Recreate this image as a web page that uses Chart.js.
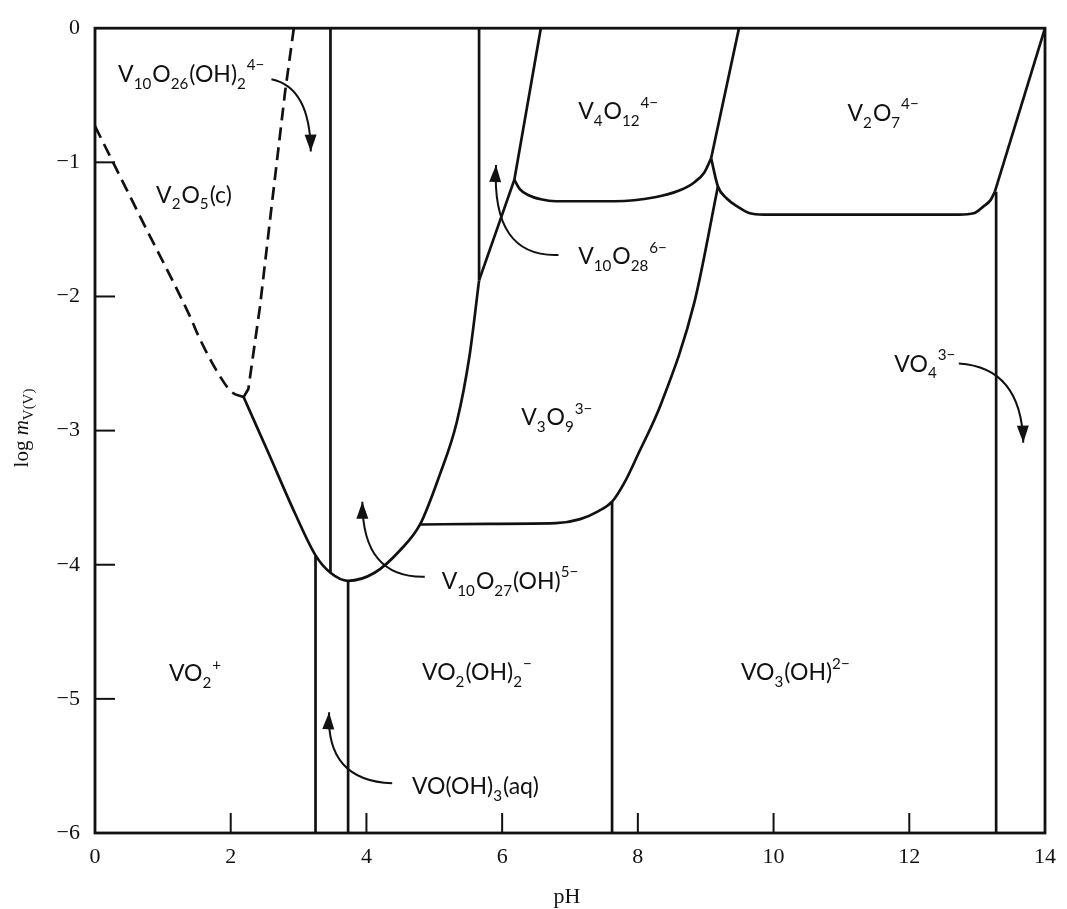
<!DOCTYPE html>
<html>
<head>
<meta charset="utf-8">
<script src="https://cdn.jsdelivr.net/npm/chart.js@4.4.1/dist/chart.umd.min.js"></script>
<style>
  body { margin: 0; background: #fff; }
  #wrap { width: 1067px; height: 909px; }
</style>
</head>
<body>
<div id="wrap"><canvas id="chart"></canvas></div>
<script>
// axis ticks
const xTicks = [0, 2, 4, 6, 8, 10, 12, 14];
const yTicks = [0, -1, -2, -3, -4, -5, -6];

// boundaries [pH, log m]
const dashedLeft = [[0, -0.73], [0.7, -1.44], [1.41, -2.16], [1.53, -2.3], [1.8, -2.56], [2.01, -2.71], [2.19, -2.75]];
const dashedRight = [[2.19, -2.75], [2.26, -2.69], [2.43, -2.08], [2.6, -1.34], [2.8, -0.48], [2.93, 0]];
const minCurve = [[2.19, -2.75], [2.55, -3.16], [2.95, -3.62], [3.25, -3.93], [3.47, -4.06], [3.73, -4.12],
  [4.12, -4.06], [4.5, -3.89], [4.79, -3.70], [5.08, -3.33], [5.33, -2.94], [5.52, -2.44], [5.66, -1.88]];
const decaLine = [[5.66, -1.88], [6.18, -1.13], [6.57, 0]];
const tetraBottom = [[6.18, -1.13], [6.26, -1.2], [6.39, -1.245], [6.57, -1.275], [6.79, -1.29], [7.66, -1.29],
  [8.25, -1.26], [8.61, -1.21], [8.83, -1.15], [8.98, -1.075], [9.08, -0.97]];
const tetraRight = [[9.08, -0.97], [9.49, 0]];
const pyroBottom = [[9.08, -0.97], [9.18, -1.18], [9.31, -1.27], [9.47, -1.33], [9.65, -1.38], [9.85, -1.39],
  [11.0, -1.39], [12.73, -1.39], [12.95, -1.38], [13.09, -1.33], [13.2, -1.28], [13.26, -1.22]];
const pyroRight = [[13.26, -1.22], [14, 0]];
const trimerEdge = [[4.79, -3.70], [5.8, -3.695], [6.79, -3.69], [7.15, -3.66], [7.42, -3.60], [7.62, -3.53],
  [7.81, -3.38], [8.0, -3.18], [8.35, -2.79], [8.83, -2.05], [9.18, -1.18]];
const vert1 = [[3.47, 0], [3.47, -4.06]];
const vert2 = [[5.66, 0], [5.66, -1.88]];
const vert3 = [[3.25, -3.93], [3.25, -6]];
const vert4 = [[3.73, -4.12], [3.73, -6]];
const vert5 = [[7.62, -3.53], [7.62, -6]];
const vert6 = [[13.28, -1.22], [13.28, -6]];

// species names: [text, kind]
const speciesNames = [
  [['V'], ['10', 'sub'], ['O'], ['26', 'sub'], ['(OH)'], ['2', 'sub'], ['4−', 'sup']],
  [['V'], ['2', 'sub'], ['O'], ['5', 'sub'], ['(c)']],
  [['V'], ['4', 'sub'], ['O'], ['12', 'sub'], ['4−', 'sup']],
  [['V'], ['2', 'sub'], ['O'], ['7', 'sub'], ['4−', 'sup']],
  [['V'], ['10', 'sub'], ['O'], ['28', 'sub'], ['6−', 'sup']],
  [['VO'], ['4', 'sub'], ['3−', 'sup']],
  [['V'], ['3', 'sub'], ['O'], ['9', 'sub'], ['3−', 'sup']],
  [['V'], ['10', 'sub'], ['O'], ['27', 'sub'], ['(OH)'], ['5−', 'sup']],
  [['VO'], ['2', 'sub'], ['+', 'sup']],
  [['VO'], ['2', 'sub'], ['(OH)'], ['2', 'sub'], ['−', 'sup']],
  [['VO'], ['3', 'sub'], ['(OH)'], ['2−', 'sup']],
  [['VO(OH)'], ['3', 'sub'], ['(aq)']]
];
// where each name starts (left, baseline) in pH / log m
const nameSpots = [[0.34, -0.40], [0.9, -1.30], [7.12, -0.68], [11.09, -0.69], [7.12, -1.76], [11.78, -2.56],
  [6.28, -2.96], [5.11, -4.18], [1.09, -4.87], [4.82, -4.86], [9.52, -4.86], [4.67, -5.71]];

// pointer arrows: start, bend, tip
const arrowStarts = [[2.6, -0.38], [6.83, -1.69], [4.86, -4.09], [4.38, -5.63], [12.73, -2.50]];
const arrowBends = [[3.17, -0.44], [5.84, -1.71], [3.94, -4.10], [3.40, -5.61], [13.65, -2.53]];
const arrowTips = [[3.18, -0.92], [5.91, -1.02], [3.94, -3.53], [3.45, -5.10], [13.68, -3.09]];

function toXY(arr) {
  return arr.map(p => ({ x: p[0], y: p[1] }));
}

function boundary(arr, dashed, smooth) {
  return {
    data: toXY(arr),
    showLine: true,
    borderColor: "#111",
    borderWidth: 2.7,
    borderDash: dashed ? [13, 7] : [],
    pointRadius: 0,
    cubicInterpolationMode: smooth ? "monotone" : "default",
    tension: 0
  };
}

// write a formula with sub/superscripts
function drawFormula(ctx, x, y, segs, size, family) {
  let cx = x;
  segs.forEach(seg => {
    const kind = seg[1] || "";
    let fs = size, dy = 0;
    if (kind === "sub") { fs = size * 0.66; dy = size * 0.3; }
    if (kind === "sup") { fs = size * 0.66; dy = -size * 0.5; }
    ctx.font = fs + "px " + family;
    ctx.fillText(seg[0], cx, y + dy);
    cx += ctx.measureText(seg[0]).width + (kind ? 1 : 0);
  });
}

const decorPlugin = {
  id: "decor",
  afterDraw(chart) {
    const ctx = chart.ctx;
    const xs = chart.scales.x, ys = chart.scales.y;
    const a = chart.chartArea;
    ctx.save();
    ctx.strokeStyle = "#111";
    ctx.fillStyle = "#111";

    // frame
    ctx.lineWidth = 2.8;
    ctx.setLineDash([]);
    ctx.strokeRect(a.left, a.top, a.right - a.left, a.bottom - a.top);

    // inward tick marks
    ctx.lineWidth = 2;
    xTicks.slice(1, -1).forEach(v => {
      const px = xs.getPixelForValue(v);
      ctx.beginPath(); ctx.moveTo(px, a.bottom); ctx.lineTo(px, a.bottom - 20); ctx.stroke();
    });
    yTicks.slice(1, -1).forEach(v => {
      const py = ys.getPixelForValue(v);
      ctx.beginPath(); ctx.moveTo(a.left, py); ctx.lineTo(a.left + 20, py); ctx.stroke();
    });

    // arrows
    ctx.lineWidth = 2;
    arrowStarts.forEach((s, i) => {
      const p0 = [xs.getPixelForValue(s[0]), ys.getPixelForValue(s[1])];
      const c = [xs.getPixelForValue(arrowBends[i][0]), ys.getPixelForValue(arrowBends[i][1])];
      const p2 = [xs.getPixelForValue(arrowTips[i][0]), ys.getPixelForValue(arrowTips[i][1])];
      ctx.beginPath();
      ctx.moveTo(p0[0], p0[1]);
      ctx.quadraticCurveTo(c[0], c[1], p2[0], p2[1]);
      ctx.stroke();
      const ang = Math.atan2(p2[1] - c[1], p2[0] - c[0]);
      const len = 17, half = 6;
      ctx.beginPath();
      ctx.moveTo(p2[0], p2[1]);
      ctx.lineTo(p2[0] - len * Math.cos(ang) + half * Math.sin(ang), p2[1] - len * Math.sin(ang) - half * Math.cos(ang));
      ctx.lineTo(p2[0] - len * Math.cos(ang) - half * Math.sin(ang), p2[1] - len * Math.sin(ang) + half * Math.cos(ang));
      ctx.closePath();
      ctx.fill();
    });

    // species names
    ctx.textBaseline = "alphabetic";
    ctx.textAlign = "left";
    speciesNames.forEach((segs, i) => {
      const px = xs.getPixelForValue(nameSpots[i][0]);
      const py = ys.getPixelForValue(nameSpots[i][1]);
      drawFormula(ctx, px, py, segs, 23, "Lato, 'Open Sans', sans-serif");
    });

    // axis titles
    ctx.textAlign = "left";
    ctx.font = "22px 'Liberation Serif', serif";
    const ph = "pH";
    ctx.fillText(ph, 567 - ctx.measureText(ph).width / 2, 903);

    ctx.translate(28, 428);
    ctx.rotate(-Math.PI / 2);
    const parts = [["log ", ""], ["m", "it"], ["V(V)", "sub"]];
    const fontOf = k => k === "sub" ? "15px 'Liberation Serif', serif"
      : (k === "it" ? "italic 21px 'Liberation Serif', serif" : "21px 'Liberation Serif', serif");
    let w = 0;
    parts.forEach(p => { ctx.font = fontOf(p[1]); w += ctx.measureText(p[0]).width; });
    let cx = -w / 2;
    parts.forEach(p => {
      ctx.font = fontOf(p[1]);
      ctx.fillText(p[0], cx, p[1] === "sub" ? 5 : 0);
      cx += ctx.measureText(p[0]).width;
    });
    ctx.restore();
  }
};

const ctx = document.getElementById("chart").getContext("2d");
new Chart(ctx, {
  type: "scatter",
  data: {
    datasets: [
      boundary(dashedLeft, true, true),
      boundary(dashedRight, true, false),
      boundary(minCurve, false, true),
      boundary(decaLine, false, false),
      boundary(tetraBottom, false, true),
      boundary(tetraRight, false, false),
      boundary(pyroBottom, false, true),
      boundary(pyroRight, false, false),
      boundary(trimerEdge, false, true),
      boundary(vert1), boundary(vert2), boundary(vert3),
      boundary(vert4), boundary(vert5), boundary(vert6)
    ]
  },
  options: {
    responsive: true,
    maintainAspectRatio: false,
    animation: false,
    layout: { padding: { top: 18, right: 14, left: 0, bottom: 0 } },
    plugins: { legend: { display: false }, tooltip: { enabled: false } },
    scales: {
      x: {
        type: "linear", min: 0, max: 14,
        afterBuildTicks: s => { s.ticks = xTicks.map(v => ({ value: v })); },
        afterFit: s => { s.height = 76; },
        grid: { display: false, drawTicks: false },
        border: { display: false },
        ticks: { color: "#111", padding: 11, font: { family: "'Liberation Serif', serif", size: 22 } }
      },
      y: {
        type: "linear", min: -6, max: 0,
        afterBuildTicks: s => { s.ticks = yTicks.map(v => ({ value: v })); },
        afterFit: s => { s.width = 95; },
        grid: { display: false, drawTicks: false },
        border: { display: false },
        ticks: {
          color: "#111", padding: 15,
          font: { family: "'Liberation Serif', serif", size: 22 },
          callback: v => v < 0 ? "−" + Math.abs(v) : String(v)
        }
      }
    }
  },
  plugins: [decorPlugin]
});
</script>
</body>
</html>
